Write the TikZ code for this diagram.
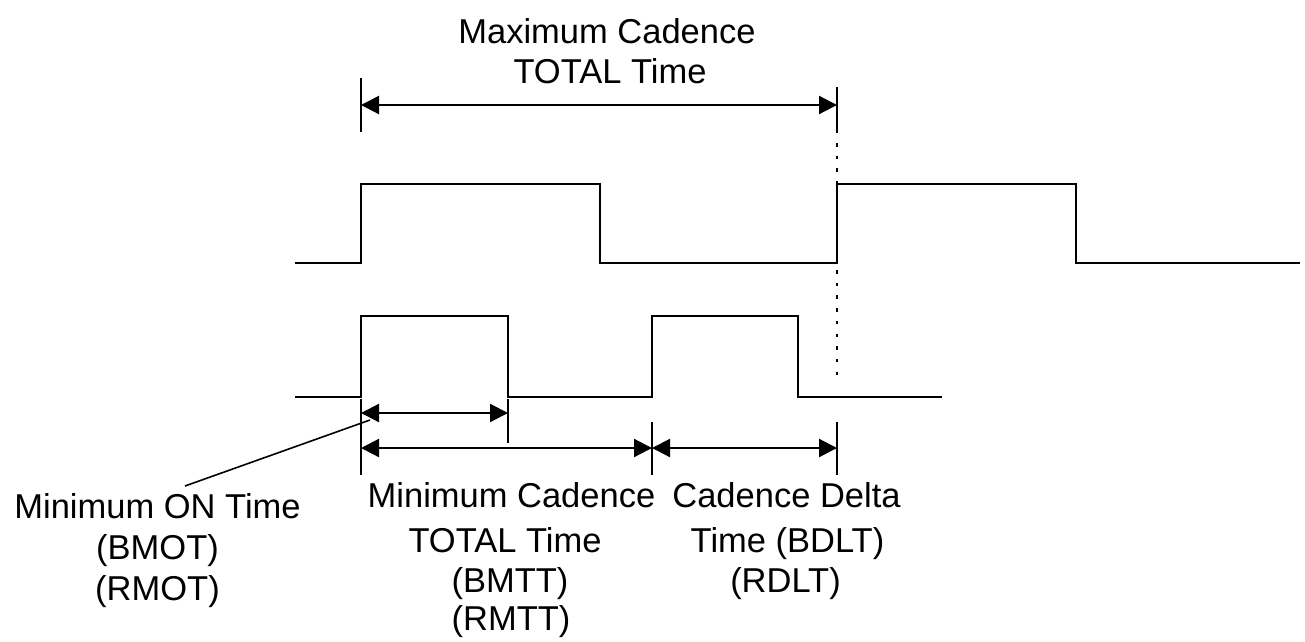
\documentclass[tikz,border=0pt]{standalone}
\usepackage{fontspec}
\setmainfont{Liberation Sans}
\usetikzlibrary{arrows.meta}
\begin{document}
\begin{tikzpicture}[x=1pt,y=-1pt,
  wave/.style={line width=2pt, line join=miter},
  tickline/.style={line width=1.6pt},
  dimline/.style={line width=2.2pt, {Triangle[length=18pt,width=18pt]}-{Triangle[length=18pt,width=18pt]}},
  leader/.style={line width=1.6pt},
  guide/.style={line width=2.2pt, dash pattern=on 3.5pt off 9.2pt},
  lbl/.style={inner sep=0pt, anchor=base, font=\fontsize{34.5}{41}\selectfont}]
\useasboundingbox (0,0) rectangle (1305,641);

% waveforms
\draw[wave] (295,263) -- (361,263) -- (361,184) -- (600,184) -- (600,263)
  -- (837,263) -- (837,184) -- (1076,184) -- (1076,263) -- (1300,263);
\draw[wave] (295,397) -- (361,397) -- (361,316) -- (508,316) -- (508,397)
  -- (652,397) -- (652,316) -- (798,316) -- (798,397) -- (942,397);

% guide (dotted)
\draw[guide] (837,143) -- (837,376);

% extension ticks
\draw[tickline] (361,78) -- (361,132);
\draw[tickline] (837,87) -- (837,133);
\draw[tickline] (361,399) -- (361,475);
\draw[tickline] (508,399) -- (508,443);
\draw[tickline] (652,422) -- (652,475);
\draw[tickline] (837,422) -- (837,475);

% dimension arrows
\coordinate (mxL) at (361,105); \coordinate (mxR) at (837,105);
\coordinate (onL) at (361,413); \coordinate (onR) at (508,413);
\coordinate (mtL) at (361,448); \coordinate (mtR) at (652,448);
\coordinate (dlL) at (652,448); \coordinate (dlR) at (837,448);
\draw[dimline] (mxL) -- (mxR);
\draw[dimline] (onL) -- (onR);
\draw[dimline] (mtL) -- (mtR);
\draw[dimline] (dlL) -- (dlR);

% labels
\node[lbl] (maxA) at (607,43) {Maximum Cadence};
\node[lbl] (maxB) at (610,83) {TOTAL Time};
\node[lbl] (onA) at (157.5,518) {Minimum ON Time};
\node[lbl] (onB) at (157.5,559) {(BMOT)};
\node[lbl] (onC) at (157.5,600) {(RMOT)};
\node[lbl] (mcA) at (511.5,507) {Minimum Cadence};
\node[lbl] (mcB) at (505,552) {TOTAL Time};
\node[lbl] (mcC) at (510,592) {(BMTT)};
\node[lbl] (mcD) at (511,630) {(RMTT)};
\node[lbl] (cdA) at (786.5,507) {Cadence Delta};
\node[lbl] (cdB) at (787.5,552) {Time (BDLT)};
\node[lbl] (cdC) at (785.5,592) {(RDLT)};

% leader line
\coordinate (ldA) at (370,420);
\coordinate (ldB) at (185,486);
\draw[leader] (ldB) -- (ldA);
\end{tikzpicture}
\end{document}
